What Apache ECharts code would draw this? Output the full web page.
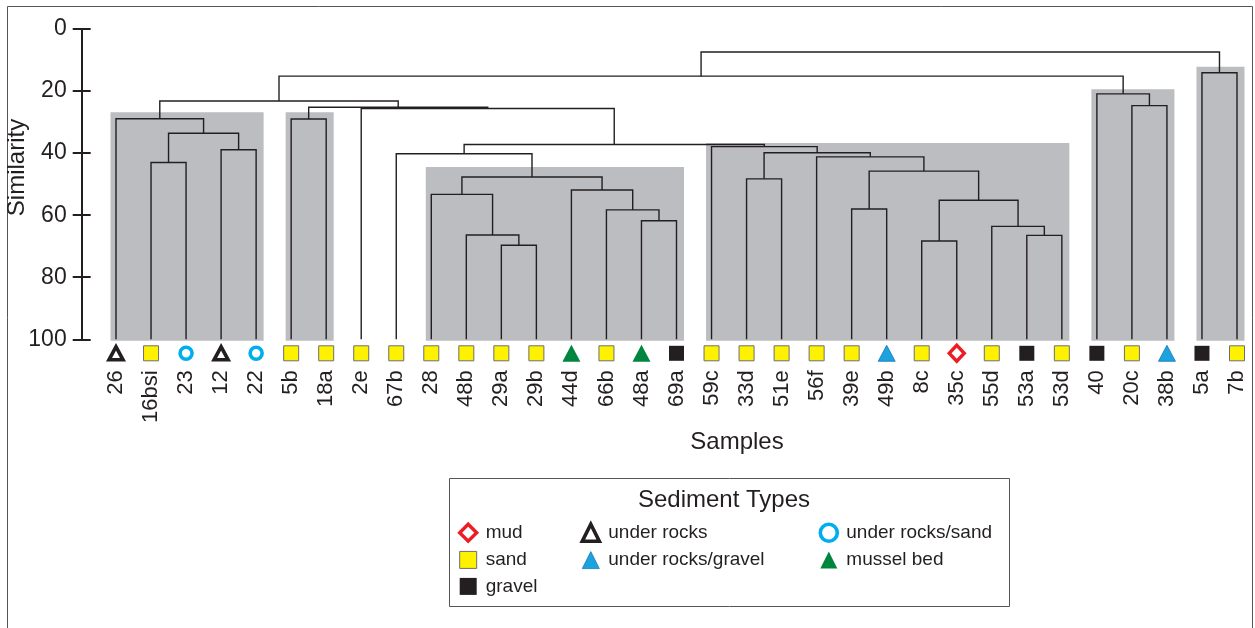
<!DOCTYPE html>
<html>
<head>
<meta charset="utf-8">
<script src="https://cdn.jsdelivr.net/npm/echarts@6/dist/echarts.min.js"></script>
<style>
html,body{margin:0;padding:0;background:#fff;}
#chart{width:1255px;height:628px;}
</style>
</head>
<body>
<div id="chart"></div>
<script>
// ---------- DATA ----------
const samples = ['26','16bsi','23','12','22','5b','18a','2e','67b','28','48b','29a','29b','44d','66b','48a','69a',
  '59c','33d','51e','56f','39e','49b','8c','35c','55d','53a','53d','40','20c','38b','5a','7b'];
const sampleTypes = ['under rocks','sand','under rocks/sand','under rocks','under rocks/sand','sand','sand','sand','sand',
  'sand','sand','sand','sand','mussel bed','sand','mussel bed','gravel',
  'sand','sand','sand','sand','sand','under rocks/gravel','sand','mud','sand','gravel','sand',
  'gravel','sand','under rocks/gravel','gravel','sand'];
const typeNames = ['mud','sand','gravel','under rocks','under rocks/gravel','under rocks/sand','mussel bed'];

// merges: '#k' refers to merge k, otherwise a sample name
const mergeLeft  = ['16bsi','12','#0','26','5b','29a','48b','28','48a','66b','44d','#7','67b',
  '33d','39e','8c','53a','55d','#15','#14','56f','#13','59c','#12','2e','#4','#3','20c','40','#26','5a','#29'];
const mergeRight = ['23','22','#1','#2','18a','29b','#5','#6','69a','#8','#9','#10','#11',
  '51e','49b','35c','53d','#16','#17','#18','#19','#20','#21','#22','#23','#24','#25','38b','#27','#28','7b','#30'];
const mergeSimilarity = [43.0,38.9,33.6,28.9,29.0,69.7,66.4,53.3,61.8,58.3,51.9,47.7,40.2,
  48.3,58.0,68.3,66.5,63.6,55.2,45.8,41.2,39.9,37.9,37.2,25.6,25.2,23.2,24.7,20.9,15.2,14.1,7.4];

// shaded clusters
const clusterFirst = ['26','5b','28','59c','40','5a'];
const clusterLast  = ['22','18a','69a','53d','38b','7b'];
const clusterTop   = [26.8,26.8,44.5,36.7,19.4,12.2];

// ---------- helpers ----------
const FONT = "'Liberation Sans', Arial, Helvetica, sans-serif";
const INK = '#231f20';
const xCache = {};
function nodeX(ref){
  if (ref[0] === '#'){
    const k = +ref.slice(1);
    if (xCache[k] === undefined) xCache[k] = (nodeX(mergeLeft[k]) + nodeX(mergeRight[k])) / 2;
    return xCache[k];
  }
  return samples.indexOf(ref);
}
function nodeH(ref){ return ref[0] === '#' ? mergeSimilarity[+ref.slice(1)] : 100; }

const dendroData = mergeLeft.map((a, k) => {
  const b = mergeRight[k];
  return [nodeX(a), nodeH(a), nodeX(b), nodeH(b), mergeSimilarity[k]];
});
const clusterData = clusterFirst.map((f, i) => [samples.indexOf(f), samples.indexOf(clusterLast[i]), clusterTop[i]]);

const typeStyle = {
  'mud':                {symbol:'diamond', size:[15,16], itemStyle:{color:'#ffffff', borderColor:'#ed1c24', borderWidth:3.4, opacity:1}},
  'sand':               {symbol:'rect', size:15, itemStyle:{color:'#fff200', borderColor:'#6d6e71', borderWidth:1, opacity:1}},
  'gravel':             {symbol:'rect', size:15, itemStyle:{color:INK, borderWidth:0, opacity:1}},
  'under rocks':        {symbol:'triangle', size:[14,13], itemStyle:{color:'#ffffff', borderColor:INK, borderWidth:3.6, opacity:1}},
  'under rocks/gravel': {symbol:'triangle', size:[17,16], itemStyle:{color:'#1aa3dc', borderColor:'#1c75bc', borderWidth:0.8, opacity:1}},
  'under rocks/sand':   {symbol:'circle', size:12, itemStyle:{color:'#ffffff', borderColor:'#00aeef', borderWidth:3.6, opacity:1}},
  'mussel bed':         {symbol:'triangle', size:[18,17], itemStyle:{color:'#00853f', borderWidth:0, opacity:1}}
};

const scatterSeries = typeNames.map(t => ({
  type:'scatter', name:t, xAxisIndex:1, yAxisIndex:0, clip:false, z:5,
  symbol: typeStyle[t].symbol, symbolSize: typeStyle[t].size, symbolOffset:[0,14],
  itemStyle: typeStyle[t].itemStyle,
  emphasis:{disabled:true},
  data: samples.map((s, i) => sampleTypes[i] === t ? [i, 100] : null).filter(d => d)
}));

function legendCol(names, left){
  return {
    data: names.map(n => ({name:n, icon:typeStyle[n].symbol, itemStyle:typeStyle[n].itemStyle})),
    orient:'vertical', left:left, top:522.5, padding:0, itemWidth:17, itemHeight:17, itemGap:7.5,
    selectedMode:false, textStyle:{fontSize:19, color:INK, fontFamily:FONT, padding:[0,0,0,4]}
  };
}

const yBase = {type:'value', inverse:true, min:0, max:100, interval:20, offset:34.3, position:'left', splitLine:{show:false}};

const option = {
  animation:false,
  textStyle:{fontFamily:FONT},
  grid:{left:116, right:18, top:29, bottom:288.7},
  xAxis:[
    {type:'category', data:samples, boundaryGap:false, axisLine:{show:false}, axisTick:{show:false}, splitLine:{show:false},
     axisLabel:{interval:0, rotate:90, margin:31, fontSize:22, color:INK, fontFamily:FONT}},
    {type:'value', min:0, max:samples.length-1, show:false}
  ],
  yAxis:[
    Object.assign({}, yBase, {
      axisLine:{show:true, onZero:false, lineStyle:{color:INK, width:2}},
      axisTick:{show:true, length:9, lineStyle:{color:INK, width:2}},
      axisLabel:{fontSize:23, margin:15, color:INK, fontFamily:FONT}
    }),
    Object.assign({}, yBase, {
      axisLine:{show:false, onZero:false},
      axisTick:{show:true, inside:true, length:9, lineStyle:{color:INK, width:2}},
      axisLabel:{show:false}
    })
  ],
  legend:[
    legendCol(['mud','sand','gravel'], 458),
    legendCol(['under rocks','under rocks/gravel'], 580.5),
    legendCol(['under rocks/sand','mussel bed'], 818.5)
  ],
  graphic:[
    {type:'rect', shape:{x:7.5, y:6.5, width:1245, height:660}, style:{fill:'none', stroke:'#555557', lineWidth:1}, z:0},
    {type:'rect', shape:{x:449.5, y:478.5, width:560, height:128}, style:{fill:'none', stroke:'#555557', lineWidth:1}, z:0},
    {type:'text', x:17, y:167.5, rotation:Math.PI/2, style:{text:'Similarity', fontSize:24, fill:INK, fontFamily:FONT, align:'center', verticalAlign:'middle'}},
    {type:'text', x:737, y:442, style:{text:'Samples', fontSize:24, fill:INK, fontFamily:FONT, align:'center', verticalAlign:'middle'}},
    {type:'text', x:724, y:500, style:{text:'Sediment Types', fontSize:24, fill:INK, fontFamily:FONT, align:'center', verticalAlign:'middle'}}
  ],
  series:[
    {type:'custom', name:'clusters', xAxisIndex:1, yAxisIndex:0, clip:false, z:1, silent:true,
     data:clusterData,
     renderItem:function(params, api){
       const p0 = api.coord([api.value(0), api.value(2)]);
       const p1 = api.coord([api.value(1), 100]);
       const x0 = p0[0] - 5.5, x1 = p1[0] + 7.5;
       return {type:'rect', shape:{x:x0, y:p0[1], width:x1 - x0, height:p1[1] - p0[1] + 1.5}, style:{fill:'#bcbdc0'}};
     }},
    {type:'custom', name:'dendrogram', xAxisIndex:1, yAxisIndex:0, clip:false, z:3, silent:true,
     data:dendroData,
     renderItem:function(params, api){
       const a0 = api.coord([api.value(0), api.value(1)]);
       const a1 = api.coord([api.value(0), api.value(4)]);
       const b1 = api.coord([api.value(2), api.value(4)]);
       const b0 = api.coord([api.value(2), api.value(3)]);
       return {type:'polyline', shape:{points:[a0, a1, b1, b0]}, style:{stroke:INK, lineWidth:1.4, fill:'none'}};
     }}
  ].concat(scatterSeries)
};

const chart = echarts.init(document.getElementById('chart'), null, {renderer:'canvas'});
chart.setOption(option);
</script>
</body>
</html>
